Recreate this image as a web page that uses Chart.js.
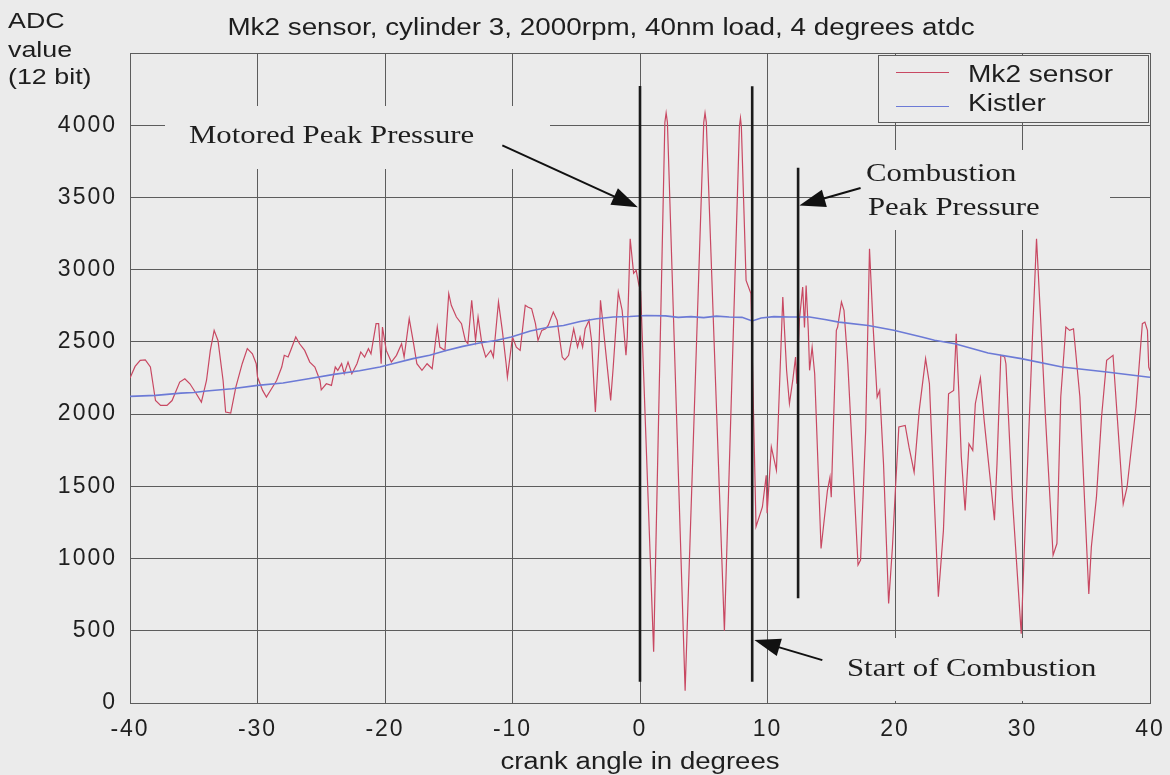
<!DOCTYPE html>
<html><head><meta charset="utf-8">
<script src="https://cdn.jsdelivr.net/npm/chart.js@4/dist/chart.umd.min.js"></script>
<style>html,body{margin:0;padding:0;background:#ebebeb;} #wrap{width:1170px;height:775px;position:relative;}</style>
</head><body><div id="wrap"><canvas id="c" width="1170" height="775"></canvas></div>
<script>
// ---- data ----
const mk2Angles = [-40.0,-39.6,-39.2,-38.8,-38.4,-38.0,-37.6,-37.1,-36.7,-36.1,-35.7,-35.3,-34.8,-34.4,-34.0,-33.7,-33.4,-33.1,-32.7,-32.5,-32.1,-31.7,-31.2,-30.8,-30.4,-30.1,-30.0,-29.6,-29.3,-28.9,-28.5,-28.1,-27.9,-27.6,-27.4,-27.0,-26.7,-26.3,-25.9,-25.5,-25.1,-25.0,-24.6,-24.2,-23.9,-23.7,-23.4,-23.2,-22.9,-22.6,-22.2,-21.9,-21.6,-21.3,-21.1,-20.7,-20.5,-20.3,-20.2,-19.9,-19.5,-19.1,-18.7,-18.5,-18.1,-17.8,-17.5,-17.1,-16.7,-16.3,-15.9,-15.7,-15.3,-15.0,-14.8,-14.4,-14.0,-13.7,-13.5,-13.2,-12.9,-12.7,-12.4,-12.1,-11.7,-11.5,-11.1,-10.8,-10.5,-10.4,-10.0,-9.7,-9.4,-9.0,-8.8,-8.5,-8.2,-8.0,-7.7,-7.4,-7.2,-6.8,-6.5,-6.1,-5.9,-5.6,-5.2,-4.9,-4.7,-4.5,-4.3,-4.0,-3.8,-3.5,-3.2,-3.1,-3.0,-2.7,-2.3,-2.1,-1.7,-1.4,-1.1,-1.0,-0.77,-0.5,-0.3,-0.1,0.05,1.07,1.95,2.05,2.15,3.54,5.0,5.1,5.2,6.62,7.8,7.88,7.95,8.32,8.7,9.1,9.6,9.9,9.97,10.3,10.7,11.2,11.5,11.72,11.98,12.2,12.3,12.5,12.76,12.9,13.03,13.2,13.3,13.5,13.7,14.2,14.7,14.9,15.0,15.4,15.5,15.8,16.0,16.3,17.1,17.3,17.7,18.0,18.3,18.6,18.8,19.1,19.5,19.8,20.0,20.3,20.8,21.1,21.5,21.9,22.4,22.7,23.4,23.8,24.2,24.6,24.8,25.0,25.2,25.5,25.8,26.1,26.3,26.7,27.0,27.8,28.0,28.3,28.6,28.7,29.2,29.9,30.1,30.8,31.1,31.4,31.8,32.4,32.7,33.0,33.4,33.7,34.0,34.5,35.2,35.4,35.8,36.2,36.6,37.1,37.9,38.2,38.9,39.4,39.6,39.8,39.9,40.0];
const mk2Values = [2250,2330,2372,2375,2326,2094,2060,2060,2094,2222,2245,2210,2141,2083,2233,2441,2580,2510,2233,2014,2007,2187,2349,2453,2418,2349,2257,2164,2118,2176,2233,2326,2407,2395,2441,2534,2487,2441,2360,2326,2233,2168,2210,2199,2326,2303,2349,2280,2360,2280,2349,2430,2395,2453,2418,2626,2626,2349,2603,2441,2360,2407,2487,2395,2661,2510,2349,2303,2349,2315,2603,2464,2441,2834,2753,2672,2626,2510,2487,2788,2510,2672,2487,2395,2441,2395,2776,2580,2349,2257,2534,2464,2441,2753,2741,2730,2626,2510,2580,2591,2614,2707,2649,2395,2376,2407,2591,2464,2534,2464,2591,2649,2510,2015,2510,2788,2707,2441,2095,2326,2845,2718,2407,2534,3214,2975,2995,2900,2850,355,4020,4085,4020,85,4020,4085,4020,500,3990,4050,3990,2925,2835,1220,1357,1577,1314,1773,1611,2810,2300,2073,2233,2395,2210,2650,2879,2600,2891,2580,2303,2464,2280,1070,1471,1563,1425,2580,2603,2776,2718,2349,955,990,1890,3145,2580,2118,2164,1655,689,1080,1425,1911,1922,1771,1598,2026,2384,2210,736,1197,2141,2164,2557,2164,1703,1333,1794,1748,2072,2250,1950,1265,1657,2407,2395,2349,1425,480,963,2580,3214,2695,1980,1024,1104,2118,2603,2580,2591,2118,755,1080,1425,1980,2372,2407,1379,1494,2049,2626,2637,2580,2326,2300];
const kistlerAngles = [-40,-38,-36,-35,-34,-32,-30,-28,-26,-24,-22,-20.4,-19.4,-17.8,-16.5,-15.2,-13.9,-12.6,-11.3,-10.1,-8.6,-7.3,-6.0,-4.7,-3.4,-2.1,-0.8,0.5,2,3,4,5,6,7,8,8.8,9.5,10.5,11.7,13.3,14.5,15.6,17.9,19.9,22.1,23.1,24.7,26.6,27.3,29.9,33.1,36.6,39.8,40];
const kistlerValues = [2123,2130,2145,2150,2160,2176,2199,2215,2245,2275,2300,2326,2349,2384,2407,2441,2469,2492,2510,2534,2575,2600,2614,2641,2660,2672,2676,2683,2680,2670,2675,2668,2678,2672,2670,2645,2665,2675,2672,2672,2655,2637,2614,2580,2534,2511,2487,2441,2423,2384,2326,2291,2257,2255];
const markerAngles = [0, 8.8, 12.4];
const markerLow = [147, 147, 725];
const markerHigh = [4272, 4270, 3705];
const xTickValues = [-40,-30,-20,-10,0,10,20,30,40];
const yTickValues = [0,500,1000,1500,2000,2500,3000,3500,4000,4500];
const yLabelMax = 4000;
const seriesNames = ['Mk2 sensor', 'Kistler'];
const chartTitle = 'Mk2 sensor, cylinder 3, 2000rpm, 40nm load, 4 degrees atdc';
const yTitleLines = ['ADC', 'value', '(12 bit)'];
const xTitle = 'crank angle in degrees';
// annotations: text lines and arrow [fromAngle, fromValue, toAngle, toValue]
const annoMotored = {lines:['Motored Peak Pressure'], arrow:[-10.8, 3860, -0.17, 3432]};
const annoCombustion = {lines:['Combustion','Peak Pressure'], arrow:[17.3, 3565, 12.5, 3444]};
const annoStart = {lines:['Start of Combustion'], arrow:[14.3, 297, 8.97, 436]};

// ---- styles ----
const BG = '#ebebeb';
const GRID = '#5c5c5c';
const TXT = '#1e1e1e';
const RED = 'rgb(200,72,98)';
const BLUE = 'rgb(108,122,214)';
const SANS = '"Liberation Sans", Arial, sans-serif';
const SERIF = '"Liberation Serif", "Times New Roman", serif';

function pts(a, v){ return a.map((x,i)=>({x:x, y:v[i]})); }

function sText(ctx, str, x, y, font, align, sx){
  ctx.save();
  ctx.letterSpacing = '0px';
  ctx.font = font; ctx.fillStyle = TXT; ctx.textBaseline = 'alphabetic';
  ctx.textAlign = 'left';
  const w = ctx.measureText(str).width * sx;
  let x0 = x;
  if (align === 'center') x0 = x - w/2; else if (align === 'right') x0 = x - w;
  ctx.translate(x0, y); ctx.scale(sx, 1);
  ctx.fillText(str, 0, 0);
  ctx.restore();
}
function arrow(ctx, x1, y1, x2, y2){
  const ang = Math.atan2(y2-y1, x2-x1);
  const L = 26, H = 9;
  ctx.save();
  ctx.strokeStyle = '#111'; ctx.fillStyle = '#111'; ctx.lineWidth = 2;
  ctx.beginPath(); ctx.moveTo(x1,y1);
  ctx.lineTo(x2 - Math.cos(ang)*L*0.8, y2 - Math.sin(ang)*L*0.8); ctx.stroke();
  ctx.beginPath(); ctx.moveTo(x2,y2);
  ctx.lineTo(x2 - Math.cos(ang)*L - Math.sin(ang)*H, y2 - Math.sin(ang)*L + Math.cos(ang)*H);
  ctx.lineTo(x2 - Math.cos(ang)*L + Math.sin(ang)*H, y2 - Math.sin(ang)*L - Math.cos(ang)*H);
  ctx.closePath(); ctx.fill();
  ctx.restore();
}

const decor = {
  id: 'decor',
  beforeDraw(chart){ chart.ctx.letterSpacing = '2px'; },
  beforeDatasetsDraw(chart){
    const ctx = chart.ctx;
    ctx.save();
    ctx.fillStyle = BG;
    ctx.fillRect(165, 106, 385, 63);   // behind "Motored Peak Pressure"
    ctx.fillRect(850, 150, 260, 80);   // behind "Combustion Peak Pressure"
    ctx.fillRect(830, 638, 275, 63);   // behind "Start of Combustion"
    ctx.restore();
  },
  afterDraw(chart){
    const ctx = chart.ctx, xs = chart.scales.x, ys = chart.scales.y;
    const X = v => xs.getPixelForValue(v), Y = v => ys.getPixelForValue(v);
    // title
    sText(ctx, chartTitle, 601, 35, '23px ' + SANS, 'center', 1.21);
    // y title
    const yb = [28, 57, 84];
    yTitleLines.forEach((s,i)=> sText(ctx, s, 8, yb[i], '22px ' + SANS, 'left', 1.22));
    // x title
    sText(ctx, xTitle, X(0), 769, '23px ' + SANS, 'center', 1.2);
    // annotations
    sText(ctx, annoMotored.lines[0], 189, 143, '25px ' + SERIF, 'left', 1.23);
    sText(ctx, annoCombustion.lines[0], 866, 181, '25px ' + SERIF, 'left', 1.23);
    sText(ctx, annoCombustion.lines[1], 868, 215, '25px ' + SERIF, 'left', 1.23);
    sText(ctx, annoStart.lines[0], 847, 676, '25px ' + SERIF, 'left', 1.23);
    [annoMotored, annoCombustion, annoStart].forEach(a => {
      arrow(ctx, X(a.arrow[0]), Y(a.arrow[1]), X(a.arrow[2]), Y(a.arrow[3]));
    });
    // legend
    ctx.save();
    ctx.fillStyle = BG; ctx.fillRect(878, 55, 270, 67);
    ctx.strokeStyle = GRID; ctx.lineWidth = 1;
    ctx.strokeRect(878.5, 55.5, 270, 67);
    ctx.strokeStyle = RED; ctx.beginPath(); ctx.moveTo(896, 72.5); ctx.lineTo(949, 72.5); ctx.stroke();
    ctx.strokeStyle = BLUE; ctx.beginPath(); ctx.moveTo(896, 106.5); ctx.lineTo(949, 106.5); ctx.stroke();
    ctx.restore();
    sText(ctx, seriesNames[0], 968, 82, '23px ' + SANS, 'left', 1.22);
    sText(ctx, seriesNames[1], 968, 111, '23px ' + SANS, 'left', 1.22);
  }
};

const markerSets = markerAngles.map((a,i)=>({
  label: 'marker' + i,
  data: [{x:a, y:markerLow[i]}, {x:a, y:markerHigh[i]}],
  borderColor: '#1a1a1a', borderWidth: 2.6, pointRadius: 0, order: 0
}));

new Chart(document.getElementById('c'), {
  type: 'line',
  data: {
    datasets: [
      { label: seriesNames[0], data: pts(mk2Angles, mk2Values), borderColor: RED, borderWidth: 1.2, pointRadius: 0, tension: 0, order: 2 },
      { label: seriesNames[1], data: pts(kistlerAngles, kistlerValues), borderColor: BLUE, borderWidth: 1.6, pointRadius: 0, tension: 0, order: 1 },
      ...markerSets
    ]
  },
  options: {
    responsive: false, animation: false, devicePixelRatio: 1,
    layout: { padding: { left: 0, right: 20, top: 53, bottom: 0 } },
    plugins: { legend: { display: false }, tooltip: { enabled: false }, title: { display: false } },
    scales: {
      x: {
        type: 'linear', min: -40, max: 40,
        afterBuildTicks: s => { s.ticks = xTickValues.map(v => ({value: v})); },
        afterFit: s => { s.height = 72; },
        grid: { color: GRID, lineWidth: 1, drawTicks: true, tickLength: 7, tickColor: 'rgba(0,0,0,0)' },
        border: { color: GRID, width: 1 },
        ticks: { color: TXT, font: { family: SANS, size: 23 }, padding: 6, maxRotation: 0, autoSkip: false, callback: v => String(v) }
      },
      y: {
        min: 0, max: 4500,
        afterBuildTicks: s => { s.ticks = yTickValues.map(v => ({value: v})); },
        afterFit: s => { s.width = 130; },
        grid: { color: GRID, lineWidth: 1, drawTicks: false },
        border: { color: GRID, width: 1 },
        ticks: { color: TXT, font: { family: SANS, size: 23 }, padding: 13, autoSkip: false, callback: v => (v > yLabelMax ? '' : String(v)) }
      }
    }
  },
  plugins: [decor]
});
</script></body></html>
